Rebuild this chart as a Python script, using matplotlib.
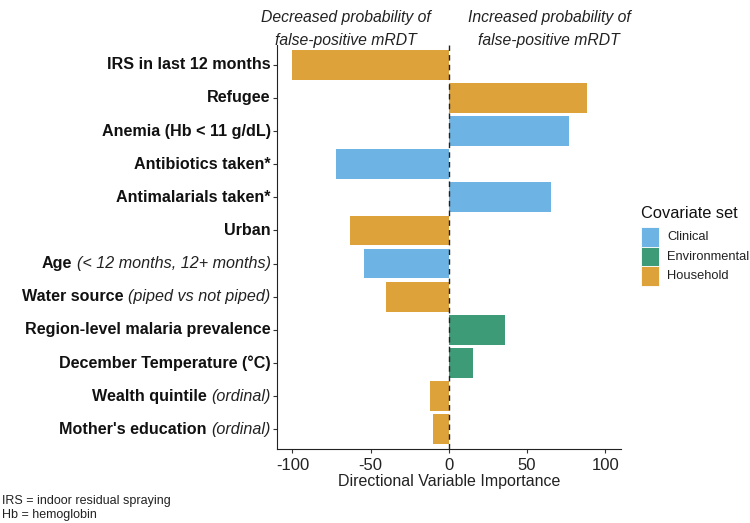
import matplotlib
matplotlib.use("Agg")
import matplotlib.pyplot as plt
import matplotlib.transforms as mtransforms
from matplotlib.patches import Rectangle

plt.rcParams['font.family'] = ['Liberation Sans', 'DejaVu Sans']

# data (top to bottom)
bold_labels = ["IRS in last 12 months", "Refugee", "Anemia (Hb < 11 g/dL)", "Antibiotics taken*",
               "Antimalarials taken*", "Urban", "Age", "Water source",
               "Region-level malaria prevalence", "December Temperature (°C)",
               "Wealth quintile", "Mother's education"]
italic_labels = ["", "", "", "", "", "", "(< 12 months, 12+ months)", "(piped vs not piped)",
                 "", "", "(ordinal)", "(ordinal)"]
importance = [-100, 88, 77, -72, 65, -63, -54, -40, 36, 15.5, -12, -10]
covariate_set = ["Household", "Household", "Clinical", "Clinical", "Clinical", "Household",
                 "Clinical", "Household", "Environmental", "Environmental", "Household", "Household"]
legend_order = ["Clinical", "Environmental", "Household"]

colors = {"Clinical": "#6DB3E4", "Environmental": "#3E9B77", "Household": "#DEA23A"}

fig = plt.figure(figsize=(7.5, 5.23), dpi=100)
ax = fig.add_axes([0.369, 0.1415, 0.459, 0.7725])

n = len(bold_labels)
ypos = list(range(n))
ax.barh(ypos, importance, height=0.9, color=[colors[c] for c in covariate_set])
ax.axvline(0, color="#222222", linestyle=(0, (4, 3)), linewidth=1)

ax.set_ylim(n - 0.4, -0.6)
ax.set_xlim(-110, 110)
ax.set_xticks([-100, -50, 0, 50, 100])
ax.set_xticklabels(["-100", "-50", "0", "50", "100"])
ax.set_yticks(ypos)
ax.set_yticklabels([""] * n)
ax.tick_params(axis="x", labelsize=12, length=3, color="#333333", labelcolor="#222222")
ax.tick_params(axis="y", length=3, color="#333333")
ax.set_xlabel("Directional Variable Importance", fontsize=11.5, color="#222222", labelpad=1)
for s in ["top", "right"]:
    ax.spines[s].set_visible(False)
for s in ["left", "bottom"]:
    ax.spines[s].set_color("#222222")

# mixed bold / italic row labels
fig.canvas.draw()
renderer = fig.canvas.get_renderer()
pad = 6
fs = 11.6
for i in range(n):
    x_off = -pad
    if italic_labels[i]:
        tr = ax.get_yaxis_transform() + mtransforms.ScaledTranslation(x_off / 100, 0, fig.dpi_scale_trans)
        t = ax.text(0, i, italic_labels[i], transform=tr, ha="right", va="center",
                    fontsize=fs, style="italic", color="#222222")
        w = t.get_window_extent(renderer).width
        x_off -= w + 5
    tr = ax.get_yaxis_transform() + mtransforms.ScaledTranslation(x_off / 100, 0, fig.dpi_scale_trans)
    ax.text(0, i, bold_labels[i], transform=tr, ha="right", va="center",
            fontsize=fs, fontweight="bold", color="#111111")

# headers
hfs = 11.3
fig.text(0.461, 0.967, "Decreased probability of", ha="center", va="center", fontsize=hfs, style="italic", color="#222222")
fig.text(0.461, 0.923, "false-positive mRDT", ha="center", va="center", fontsize=hfs, style="italic", color="#222222")
fig.text(0.732, 0.967, "Increased probability of", ha="center", va="center", fontsize=hfs, style="italic", color="#222222")
fig.text(0.732, 0.923, "false-positive mRDT", ha="center", va="center", fontsize=hfs, style="italic", color="#222222")

# legend (drawn by hand so the keys touch like in ggplot)
lx, ltop = 0.8547, 0.566
kw, kh = 0.024, 0.0377
fig.text(lx, 1 - 214 / 523, "Covariate set", ha="left", va="center", fontsize=11.8, color="#111111")
for j, k in enumerate(legend_order):
    y0 = ltop - (j + 1) * kh
    fig.patches.append(Rectangle((lx, y0), kw, kh, transform=fig.transFigure,
                                 facecolor=colors[k], edgecolor="white", linewidth=0.6))
    fig.text(lx + kw + 0.0107, y0 + kh / 2, k, ha="left", va="center", fontsize=9.3, color="#222222")

# footnote
fig.text(0.003, 0.043, "IRS = indoor residual spraying", fontsize=9, color="#222222", va="center")
fig.text(0.003, 0.016, "Hb = hemoglobin", fontsize=9, color="#222222", va="center")

fig.savefig("out.png", dpi=100)
